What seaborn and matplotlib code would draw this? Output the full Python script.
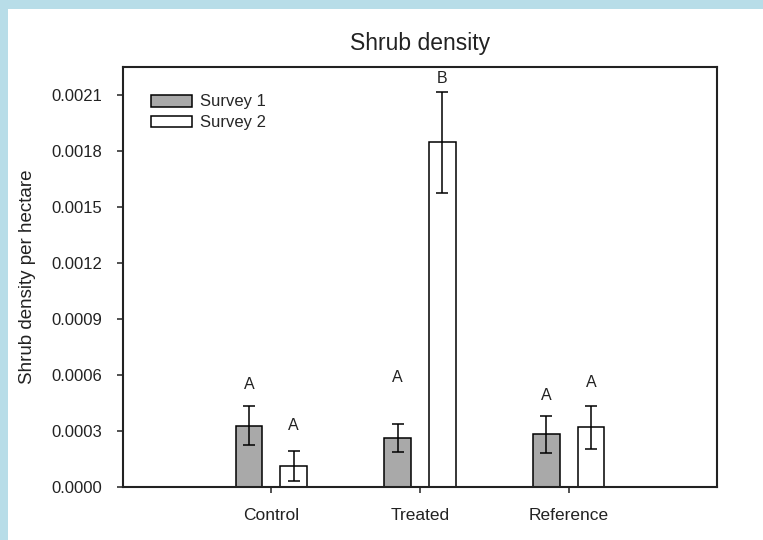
import matplotlib
matplotlib.use("Agg")
import matplotlib.pyplot as plt
from matplotlib.patches import Rectangle
from matplotlib.ticker import FormatStrFormatter
import pandas as pd
import seaborn as sns

# Mean shrub density per site and survey, with standard errors
sites = ["Control", "Treated", "Reference"]
surveys = ["Survey 1", "Survey 2"]
survey1_mean = [0.000329, 0.000265, 0.000283]
survey2_mean = [0.000114, 0.001847, 0.000321]
survey1_se = [0.000105, 0.000075, 0.000100]
survey2_se = [0.000080, 0.000270, 0.000114]

# Significance letters and their heights
survey1_letters = ["A", "A", "A"]
survey2_letters = ["A", "B", "A"]
survey1_letter_y = [0.000548, 0.000585, 0.000493]
survey2_letter_y = [0.000333, 0.002187, 0.000560]

yticks = [0.0000, 0.0003, 0.0006, 0.0009, 0.0012, 0.0015, 0.0018, 0.0021]

sns.set_style("white")
plt.rcParams["font.family"] = ["Liberation Sans", "DejaVu Sans"]

df = pd.DataFrame({
    "site": sites * 2,
    "survey": [surveys[0]] * 3 + [surveys[1]] * 3,
    "density": survey1_mean + survey2_mean,
})

W, H = 763, 540
fig = plt.figure(figsize=(W / 100, H / 100), dpi=100, facecolor="#b8dde8")
fig.patches.append(Rectangle((7.5 / W, 0), 1 - 7.5 / W, 1 - 9 / H,
                             transform=fig.transFigure, facecolor="white",
                             edgecolor="none", zorder=-10))

ax = fig.add_axes([122.7 / W, 1 - 487.3 / H, (717.3 - 122.7) / W, (487.3 - 66.7) / H])
ax.set_zorder(1)

sns.barplot(data=df, x="site", y="density", hue="survey", order=sites,
            hue_order=surveys, palette=["#a9a9a9", "white"], edgecolor="black",
            linewidth=1.1, width=0.6, gap=0.4, errorbar=None, saturation=1,
            ax=ax)

means = [survey1_mean, survey2_mean]
errs = [survey1_se, survey2_se]
letters = [survey1_letters, survey2_letters]
letter_y = [survey1_letter_y, survey2_letter_y]
for cont, m, e, lt, ly in zip(ax.containers, means, errs, letters, letter_y):
    xs = [b.get_x() + b.get_width() / 2 for b in cont]
    ax.errorbar(xs, m, yerr=e, fmt="none", ecolor="black", elinewidth=1.1,
                capsize=4.5, capthick=1.1, zorder=5)
    for x, t, y in zip(xs, lt, ly):
        ax.text(x, y, t, ha="center", va="center", fontsize=11.5, color="#222222")

ax.set_xlim(-1, 3)
ax.set_ylim(0, 0.00225)
ax.set_yticks(yticks)
ax.yaxis.set_major_formatter(FormatStrFormatter("%.4f"))

for s in ax.spines.values():
    s.set_visible(True)
    s.set_linewidth(1.5)
    s.set_color("#222222")

ax.tick_params(axis="y", direction="out", length=4, width=1.1, pad=11,
               labelsize=12, left=True, colors="#222222")
ax.tick_params(axis="x", direction="out", length=4, width=1.1, pad=11,
               labelsize=12.5, bottom=True, colors="#222222")

ax.set_xlabel("")
ax.set_ylabel("Shrub density per hectare", fontsize=13.5, color="#222222")
ax.yaxis.set_label_coords(-0.145, 0.5)
ax.set_title("Shrub density", fontsize=16.5, pad=12, color="#222222")

handles, labels = ax.get_legend_handles_labels()
ax.legend(handles, labels, loc="upper left", bbox_to_anchor=(0.047, 0.934),
          frameon=False, borderpad=0, borderaxespad=0, fontsize=12,
          handlelength=2.46, handleheight=0.72, handletextpad=0.5,
          labelspacing=0.35)

fig.savefig("out.png", dpi=100, facecolor=fig.get_facecolor())
